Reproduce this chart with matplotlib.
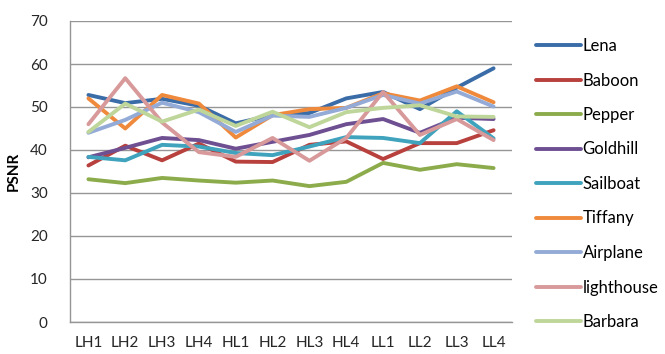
import matplotlib
matplotlib.use("Agg")
import matplotlib.pyplot as plt

plt.rcParams['font.family'] = ['Lato', 'DejaVu Sans']

bands = ["LH1", "LH2", "LH3", "LH4", "HL1", "HL2", "HL3", "HL4", "LL1", "LL2", "LL3", "LL4"]

lena = [52.8, 50.9, 51.9, 50.3, 46.2, 48.1, 48.6, 52.0, 53.5, 49.5, 54.5, 59.0]
baboon = [36.4, 41.0, 37.6, 41.5, 37.3, 37.2, 41.2, 42.0, 37.9, 41.6, 41.6, 44.6]
pepper = [33.2, 32.3, 33.5, 32.9, 32.4, 32.9, 31.6, 32.6, 37.0, 35.4, 36.7, 35.8]
goldhill = [38.3, 40.5, 42.8, 42.3, 40.3, 41.9, 43.5, 46.0, 47.2, 44.0, 47.5, 47.2]
sailboat = [38.4, 37.6, 41.2, 40.8, 39.3, 38.8, 40.8, 43.0, 42.8, 41.6, 49.0, 42.7]
tiffany = [52.0, 45.0, 52.8, 50.8, 42.9, 48.1, 49.5, 49.8, 53.2, 51.5, 54.8, 51.1]
airplane = [44.0, 47.0, 51.0, 48.8, 44.2, 48.0, 47.7, 49.8, 52.8, 50.8, 53.6, 50.1]
lighthouse = [46.0, 56.7, 46.4, 39.5, 38.4, 42.8, 37.5, 42.8, 53.5, 43.5, 47.2, 42.3]
barbara = [44.2, 50.8, 46.6, 49.4, 45.6, 48.9, 45.3, 48.8, 49.8, 50.4, 47.8, 47.7]

series = [
    ("Lena", lena, "#3a6ca8"),
    ("Baboon", baboon, "#b8403d"),
    ("Pepper", pepper, "#8cac4c"),
    ("Goldhill", goldhill, "#6e4f92"),
    ("Sailboat", sailboat, "#3fa3bd"),
    ("Tiffany", tiffany, "#ef8a3c"),
    ("Airplane", airplane, "#93abd6"),
    ("lighthouse", lighthouse, "#d8999a"),
    ("Barbara", barbara, "#bfd69a"),
]

fig = plt.figure(figsize=(6.65, 3.54), dpi=100)
ax = fig.add_axes([70 / 665, 1 - 322 / 354, 442 / 665, 301 / 354])

x = range(len(bands))
for name, vals, col in series:
    ax.plot(x, vals, color=col, lw=2.8, label=name, solid_capstyle='round')

ax.set_xlim(-0.5, len(bands) - 0.5)
ax.set_ylim(0, 70)
ax.set_yticks(range(0, 71, 10))
ax.set_xticks(list(x))
ax.set_xticklabels(bands)
ax.yaxis.grid(True, color="#969696", lw=1.0)
ax.set_axisbelow(True)
ax.tick_params(length=0, labelsize=11, colors="#262626")
ax.tick_params(axis='x', pad=10)
ax.tick_params(axis='y', pad=16)
for s in ("top", "right"):
    ax.spines[s].set_visible(False)
for s in ("left", "bottom"):
    ax.spines[s].set_color("#969696")
    ax.spines[s].set_linewidth(1.0)

ax.set_ylabel("PSNR", fontweight="bold", fontsize=11, labelpad=7)

fig.legend(loc="upper left", bbox_to_anchor=(536 / 665, 1 - 38 / 354),
           frameon=False, fontsize=12, handlelength=2.7, handletextpad=0.1,
           labelspacing=1.11, borderpad=0, borderaxespad=0)

fig.savefig("out.png", dpi=100)
